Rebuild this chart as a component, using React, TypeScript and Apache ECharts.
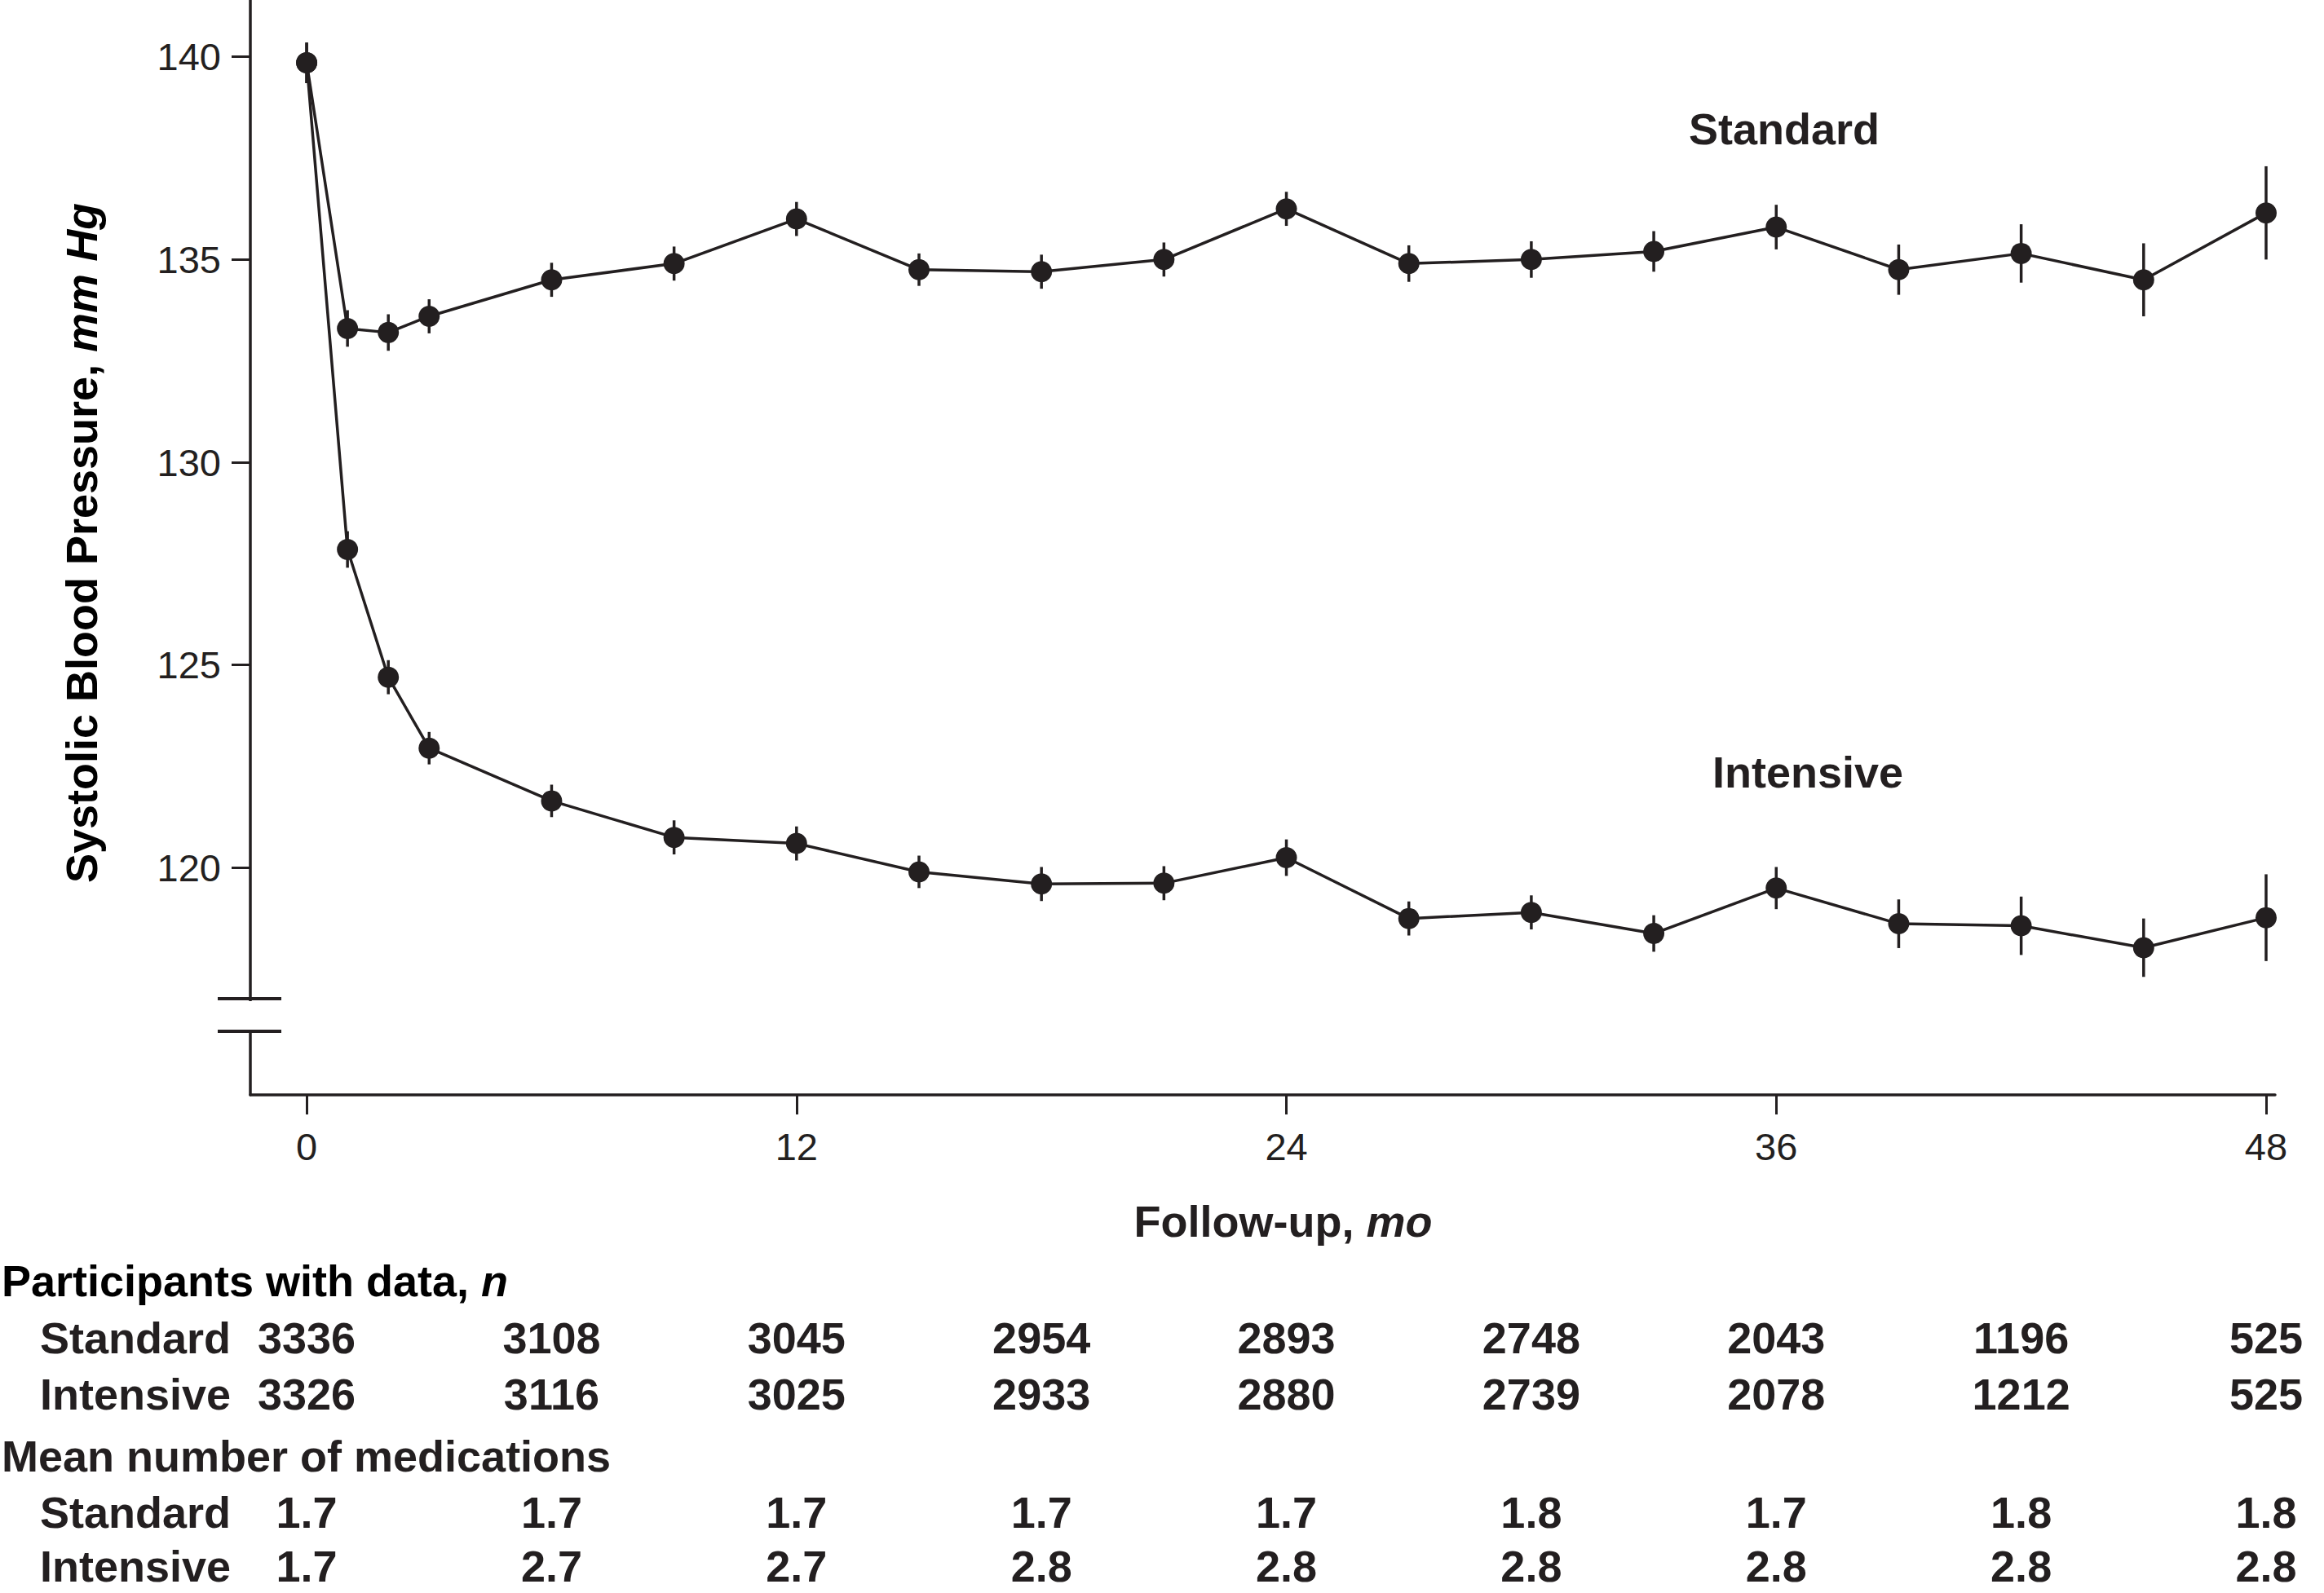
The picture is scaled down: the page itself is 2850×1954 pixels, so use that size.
import React, { useEffect, useRef } from "react";
import * as echarts from "echarts";

// ---- Data ----
const months = [0, 1, 2, 3, 6, 9, 12, 15, 18, 21, 24, 27, 30, 33, 36, 39, 42, 45, 48];
const standardMean = [139.85, 133.3, 133.2, 133.6, 134.5, 134.9, 136.0, 134.75, 134.7, 135.0, 136.25, 134.9, 135.0, 135.2, 135.8, 134.75, 135.15, 134.5, 136.15];
const standardErr = [0.5, 0.45, 0.45, 0.42, 0.42, 0.42, 0.42, 0.4, 0.42, 0.42, 0.42, 0.45, 0.45, 0.5, 0.55, 0.62, 0.72, 0.9, 1.15];
const intensiveMean = [139.85, 127.85, 124.7, 122.95, 121.65, 120.75, 120.6, 119.9, 119.6, 119.62, 120.25, 118.75, 118.9, 118.38, 119.5, 118.62, 118.57, 118.03, 118.77];
const intensiveErr = [0.5, 0.45, 0.42, 0.4, 0.4, 0.42, 0.42, 0.4, 0.42, 0.42, 0.45, 0.42, 0.42, 0.45, 0.52, 0.6, 0.72, 0.72, 1.07];

const xTicks = [0, 12, 24, 36, 48];
const yTicks = [120, 125, 130, 135, 140];

const tableMonths = [0, 6, 12, 18, 24, 30, 36, 42, 48];
const tableRows = ["Standard", "Intensive"];
const participantsStandard = [3336, 3108, 3045, 2954, 2893, 2748, 2043, 1196, 525];
const participantsIntensive = [3326, 3116, 3025, 2933, 2880, 2739, 2078, 1212, 525];
const medsStandard = [1.7, 1.7, 1.7, 1.7, 1.7, 1.8, 1.7, 1.8, 1.8];
const medsIntensive = [1.7, 2.7, 2.7, 2.8, 2.8, 2.8, 2.8, 2.8, 2.8];

const INK = "#231f20";
const FONT = "'Liberation Sans', Arial, Helvetica, sans-serif";
const BOLD_FONT = `bold 54px ${FONT}`;
const BOLD = { fontFamily: FONT, fontWeight: "bold" as const, fontSize: 54, color: INK };
const BOLD_IT = { ...BOLD, fontStyle: "italic" as const };

function errorSeries(mean: number[], err: number[]) {
  return {
    type: "custom",
    xAxisIndex: 0,
    yAxisIndex: 0,
    silent: true,
    z: 3,
    encode: { x: 0, y: [1, 2] },
    data: months.map((m, i) => [m, mean[i] - err[i], mean[i] + err[i]]),
    renderItem: (_p: any, api: any) => {
      const lo = api.coord([api.value(0), api.value(1)]);
      const hi = api.coord([api.value(0), api.value(2)]);
      return {
        type: "line",
        shape: { x1: lo[0], y1: lo[1], x2: hi[0], y2: hi[1] },
        style: { stroke: INK, lineWidth: 3.5 },
      };
    },
  };
}

function lineSeries(name: string, mean: number[]) {
  return {
    name,
    type: "line",
    xAxisIndex: 0,
    yAxisIndex: 0,
    z: 4,
    symbol: "circle",
    symbolSize: 26,
    itemStyle: { color: INK },
    lineStyle: { color: INK, width: 3.5 },
    data: months.map((m, i) => [m, mean[i]]),
  };
}

function tableSeries(axis: number, rowIndex: number, values: number[], digits: number) {
  return {
    type: "custom",
    xAxisIndex: axis,
    yAxisIndex: axis,
    silent: true,
    encode: { x: 0, y: 1 },
    data: tableMonths.map((m, i) => [m, rowIndex, values[i]]),
    renderItem: (_p: any, api: any) => {
      const pt = api.coord([api.value(0), api.value(1)]);
      return {
        type: "text",
        x: pt[0],
        y: pt[1],
        style: {
          text: Number(api.value(2)).toFixed(digits),
          font: BOLD_FONT,
          fill: INK,
          align: "center",
          verticalAlign: "middle",
          textAlign: "center",
          textVerticalAlign: "middle",
        },
      };
    },
  };
}

const X_MIN = -1.38;
const X_MAX = 48.22;

function tableAxisX(idx: number) {
  return { gridIndex: idx, type: "value", min: X_MIN, max: X_MAX, show: false };
}
function tableAxisY(idx: number) {
  return {
    gridIndex: idx,
    type: "category",
    data: tableRows,
    inverse: true,
    axisLine: { show: false },
    axisTick: { show: false },
    splitLine: { show: false },
    axisLabel: { interval: 0, align: "left", margin: 258, ...BOLD },
  };
}

export default function App() {
  const ref = useRef<HTMLDivElement>(null);
  useEffect(() => {
    if (!ref.current) return;
    const chart = echarts.init(ref.current, null, { renderer: "svg" });
    const option: any = {
      animation: false,
      backgroundColor: "#ffffff",
      grid: [
        { left: 307, right: 60, top: 0, height: 1343 },
        { left: 307, right: 60, top: 1606, height: 138 },
        { left: 307, right: 60, top: 1822, height: 134 },
      ],
      xAxis: [
        {
          gridIndex: 0,
          type: "value",
          min: X_MIN,
          max: X_MAX,
          axisLine: { show: true, onZero: false, lineStyle: { color: INK, width: 3.5 } },
          axisTick: { show: true, customValues: xTicks, length: 24, lineStyle: { color: INK, width: 3 } },
          axisLabel: { customValues: xTicks, margin: 40, fontSize: 47, color: INK, fontFamily: FONT },
          splitLine: { show: false },
          name: "{b|Follow-up, }{i|mo}",
          nameLocation: "middle",
          nameGap: 128,
          nameTextStyle: { padding: [0, 0, 0, 50], rich: { b: BOLD, i: BOLD_IT } },
        },
        tableAxisX(1),
        tableAxisX(2),
      ],
      yAxis: [
        {
          gridIndex: 0,
          type: "value",
          min: 114.4,
          max: 141.4,
          axisLine: { show: true, onZero: false, lineStyle: { color: INK, width: 3.5 } },
          axisTick: { show: true, customValues: yTicks, length: 23, lineStyle: { color: INK, width: 3 } },
          axisLabel: { customValues: yTicks, margin: 36, fontSize: 47, color: INK, fontFamily: FONT },
          splitLine: { show: false },
        },
        tableAxisY(1),
        tableAxisY(2),
      ],
      series: [
        errorSeries(standardMean, standardErr),
        errorSeries(intensiveMean, intensiveErr),
        lineSeries("Standard", standardMean),
        lineSeries("Intensive", intensiveMean),
        tableSeries(1, 0, participantsStandard, 0),
        tableSeries(1, 1, participantsIntensive, 0),
        tableSeries(2, 0, medsStandard, 1),
        tableSeries(2, 1, medsIntensive, 1),
      ],
      graphic: [
        // axis break
        { type: "rect", z: 100, shape: { x: 296, y: 1228, width: 24, height: 35 }, style: { fill: "#ffffff" } },
        { type: "line", z: 101, shape: { x1: 267, y1: 1225, x2: 345, y2: 1225 }, style: { stroke: INK, lineWidth: 4 } },
        { type: "line", z: 101, shape: { x1: 267, y1: 1265, x2: 345, y2: 1265 }, style: { stroke: INK, lineWidth: 4 } },
        // y-axis title
        {
          type: "text",
          z: 100,
          x: 100,
          y: 666,
          rotation: Math.PI / 2,
          style: {
            text: "{b|Systolic Blood Pressure, }{i|mm Hg}",
            rich: { b: BOLD, i: BOLD_IT },
            align: "center",
            verticalAlign: "middle",
            textAlign: "center",
            textVerticalAlign: "middle",
          },
        },
        // series labels
        {
          type: "text", z: 100, x: 2188, y: 158,
          style: { text: "Standard", font: BOLD_FONT, fill: INK, align: "center", verticalAlign: "middle", textAlign: "center", textVerticalAlign: "middle" },
        },
        {
          type: "text", z: 100, x: 2217, y: 947,
          style: { text: "Intensive", font: BOLD_FONT, fill: INK, align: "center", verticalAlign: "middle", textAlign: "center", textVerticalAlign: "middle" },
        },
        // table headers
        {
          type: "text", z: 100, x: 2, y: 1571,
          style: {
            text: "{b|Participants with data, }{i|n}",
            rich: { b: BOLD, i: BOLD_IT },
            align: "left", verticalAlign: "middle", textAlign: "left", textVerticalAlign: "middle",
          },
        },
        {
          type: "text", z: 100, x: 2, y: 1786,
          style: { text: "Mean number of medications", font: BOLD_FONT, fill: INK, align: "left", verticalAlign: "middle", textAlign: "left", textVerticalAlign: "middle" },
        },
      ],
    };
    chart.setOption(option);
    return () => chart.dispose();
  }, []);
  return (
    <div
      ref={ref}
      style={{ position: "absolute", left: 0, top: 0, width: 2850, height: 1954, background: "#fff" }}
    />
  );
}
